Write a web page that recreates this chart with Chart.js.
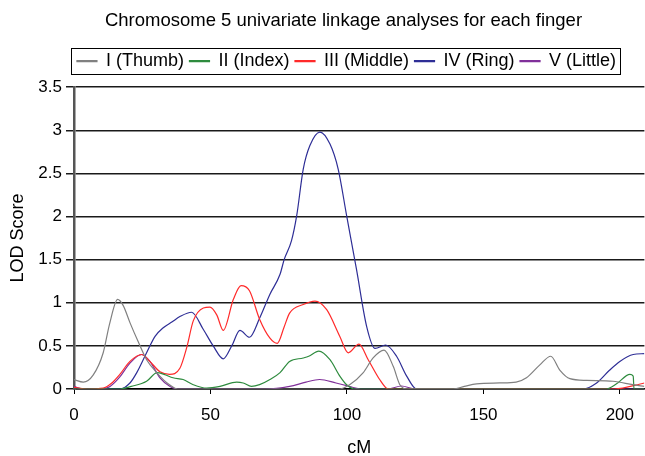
<!DOCTYPE html>
<html>
<head>
<meta charset="utf-8">
<script src="https://cdn.jsdelivr.net/npm/chart.js@4"></script>
<style>
  body { margin: 0; background: #fff; }
</style>
</head>
<body>
<canvas id="lod" width="645" height="456"></canvas>
<script>
// [cM, LOD] pairs
const thumb = [[0,0.11],[3.4,0.08],[7,0.16],[10.7,0.42],[13,0.75],[16,1.04],[18,0.97],[20.5,0.77],[23.5,0.55],[26.6,0.34],[30.3,0.19],[33,0.1],[35,0.05],[38,0],
  [97,0],[101,0.05],[106,0.19],[109.6,0.36],[113.6,0.45],[117,0.26],[119.4,0.05],[122,0],
  [139,0],[143,0.03],[147.5,0.06],[156,0.07],[162,0.08],[165.8,0.13],[170.7,0.28],[174.7,0.38],[178,0.22],[181.7,0.12],[187.8,0.1],[197.5,0.09],[204.8,0.05],[209,0.03]];
const index = [[0,0],[16.8,0],[21,0.03],[26.6,0.09],[30.5,0.19],[33,0.17],[36.3,0.13],[40,0.11],[43.7,0.05],[48.6,0.01],[53.5,0.03],[59.6,0.08],[62,0.07],[65,0.03],[68,0.05],
  [71.8,0.11],[75.5,0.19],[79,0.32],[84,0.36],[86,0.38],[89.7,0.44],[93.8,0.34],[97.4,0.15],[99.9,0.05],[103,0],
  [195,0],[198.8,0.06],[203.7,0.17],[204.9,0.15],[205.2,0],[209,0]];
const middle = [[0,0.02],[5,0],[10.7,0.01],[13.5,0.06],[16.8,0.17],[20.5,0.32],[24.8,0.4],[27.8,0.32],[31.5,0.2],[35,0.17],[38.8,0.24],[41.3,0.48],[43.7,0.79],[47.4,0.94],[49.8,0.95],[52.3,0.86],[54.7,0.68],[58.4,1.04],[61.2,1.2],[64.3,1.14],[68,0.81],[71.8,0.59],[74.5,0.53],[77,0.72],[79,0.88],[84,0.98],[88.3,1.02],[92.6,0.92],[97.4,0.61],[100.5,0.42],[104.4,0.52],[107.8,0.34],[112,0.11],[114.5,0.01],[116,0],
  [198,0],[209,0.07]];
const ring = [[0,0],[16.8,0],[20.5,0.07],[23,0.19],[26.6,0.42],[29.7,0.61],[32.7,0.71],[36,0.78],[38.8,0.84],[43.1,0.89],[47.4,0.69],[51,0.5],[54.7,0.35],[57.8,0.5],[60.8,0.68],[64.3,0.6],[68,0.82],[71.8,1.1],[75.5,1.33],[77,1.5],[79.7,1.72],[81.6,2.01],[84,2.55],[86.4,2.82],[90.1,2.98],[93.8,2.84],[96.8,2.55],[99.9,2.01],[103.5,1.39],[107.2,0.73],[110.3,0.47],[114.2,0.51],[118.2,0.38],[121.9,0.15],[125.5,0],
  [186.6,0],[191.5,0.07],[196.3,0.22],[200,0.32],[204.9,0.4],[209,0.41]];
const little = [[0,0.03],[3.4,0],[10,0],[13.2,0.03],[16.8,0.14],[20.5,0.3],[24.8,0.4],[27.8,0.32],[31.5,0.13],[35.2,0.03],[38,0],
  [70,0],[79,0.03],[85,0.08],[90,0.11],[96,0.07],[99.9,0.04],[102,0.02],[105,0],[115,0],[120,0.035],[125,0],[209,0]];

const fingers = ['I (Thumb)', 'II (Index)', 'III (Middle)', 'IV (Ring)', 'V (Little)'];
const series = [thumb, index, middle, ring, little];
const colors = ['#808080', '#2e8b3e', '#ff2a2a', '#2e2e96', '#80309a'];
const xTicks = [0, 50, 100, 150, 200];

Chart.defaults.font.family = "'Liberation Sans', Arial, sans-serif";
Chart.defaults.color = '#000';

// Excel-style legend: framed, a bit more room under it, title+legend centred over the plot
const legendFrame = {
  id: 'legendFrame',
  beforeUpdate(chart) {
    const lg = chart.legend;
    if (lg && !lg._tall) {
      const fit = lg.fit;
      lg.fit = function () { fit.call(this); this.height += 7; };
      lg._tall = true;
    }
  },
  afterLayout(chart) {
    chart.legend.left += 48;
    chart.titleBlock.left += 42;
  },
  afterDraw(chart) {
    const boxes = chart.legend.legendHitBoxes;
    if (!boxes || !boxes.length) return;
    let l = Infinity, r = -Infinity, t = Infinity, b = -Infinity;
    boxes.forEach(h => {
      l = Math.min(l, h.left); r = Math.max(r, h.left + h.width);
      t = Math.min(t, h.top); b = Math.max(b, h.top + h.height);
    });
    const ctx = chart.ctx;
    ctx.save();
    ctx.strokeStyle = '#000';
    ctx.lineWidth = 1;
    ctx.strokeRect(Math.round(l - 6) + 0.5, Math.round(t - 4) + 0.5, Math.round(r - l + 10), Math.round(b - t + 8));
    ctx.restore();
  }
};

new Chart(document.getElementById('lod'), {
  type: 'line',
  data: {
    datasets: series.map((pts, i) => ({
      label: fingers[i],
      data: pts.map(p => ({ x: p[0], y: p[1] })),
      borderColor: colors[i],
      backgroundColor: colors[i],
      borderWidth: 1.2,
      pointRadius: 0,
      cubicInterpolationMode: 'monotone',
      fill: false
    }))
  },
  options: {
    responsive: false,
    animation: false,
    layout: { padding: 0 },
    plugins: {
      title: {
        display: true,
        text: 'Chromosome 5 univariate linkage analyses for each finger',
        font: { size: 18.5, weight: 'normal' },
        color: '#000',
        padding: { top: 9.5, bottom: 15 }
      },
      legend: {
        labels: {
          boxWidth: 20,
          boxHeight: 1,
          padding: 5.5,
          font: { size: 18 },
          color: '#000'
        }
      },
      tooltip: { enabled: false }
    },
    scales: {
      x: {
        type: 'linear',
        min: 0,
        max: 209,
        afterBuildTicks: s => { s.ticks = xTicks.map(v => ({ value: v })); },
        afterFit: s => { s.height = 67; },
        ticks: { font: { size: 17 }, color: '#000', padding: 11, maxRotation: 0 },
        grid: { drawOnChartArea: false, drawTicks: true, tickLength: 5, color: '#000' },
        border: { color: '#000', width: 1.5 },
        title: { display: true, text: 'cM', font: { size: 18 }, color: '#000', padding: { top: 4, bottom: -3 } }
      },
      y: {
        min: 0,
        max: 3.5,
        ticks: { stepSize: 0.5, font: { size: 17 }, color: '#000', padding: 4, callback: v => String(v) },
        afterFit: s => { s.width = 74; },
        grid: { color: '#1a1a1a', lineWidth: 1.5, tickLength: 8 },
        border: { color: '#555', width: 2.5 },
        title: { display: true, text: 'LOD Score', font: { size: 18 }, color: '#000', padding: { top: 7, bottom: 0 } }
      }
    }
  },
  plugins: [legendFrame]
});
</script>
</body>
</html>
